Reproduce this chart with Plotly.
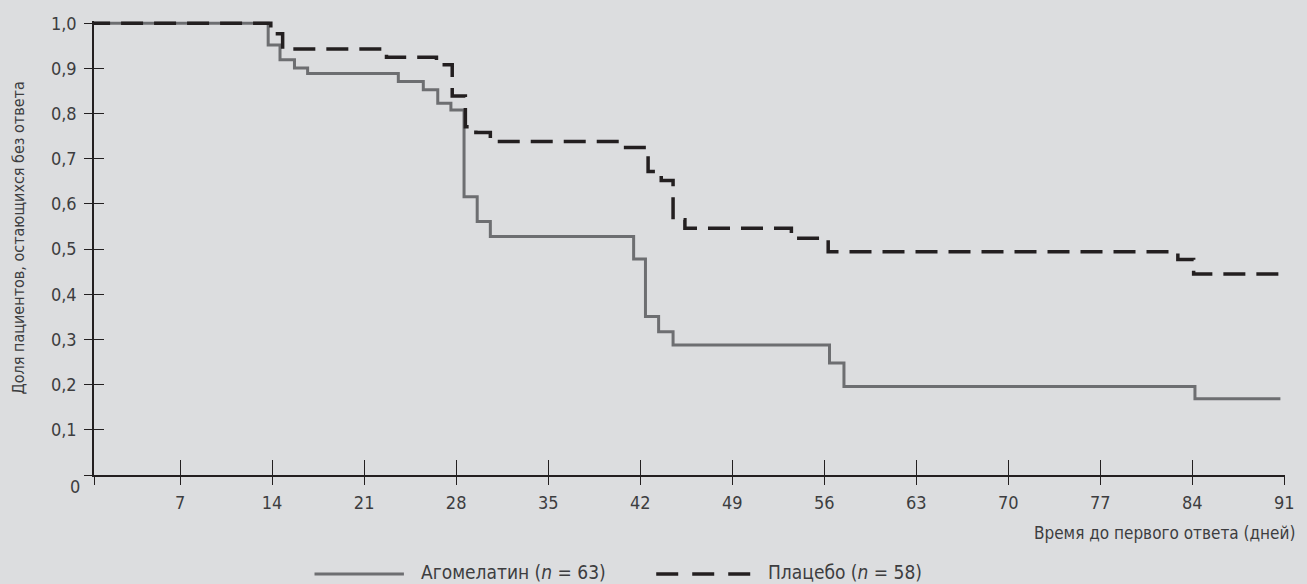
import plotly.graph_objects as go

# ---------------- data ----------------
days_agomelatine = [0, 13.7, 14.6, 15.7, 16.7, 23.6, 25.5, 26.6, 27.6, 28.6, 29.6, 30.6,
                    41.5, 42.4, 43.4, 44.5, 56.4, 57.5, 84.2, 90.7]
surv_agomelatine = [1.0, 0.952, 0.919, 0.901, 0.889, 0.871, 0.853, 0.823, 0.808, 0.616, 0.561, 0.528,
                    0.478, 0.351, 0.317, 0.288, 0.248, 0.196, 0.169, 0.169]

days_placebo = [0, 13.9, 14.8, 22.7, 26.5, 27.7, 28.7, 29.5, 30.6, 40.6, 42.6, 43.6,
                44.5, 45.4, 53.5, 56.3, 82.9, 84.1, 90.7]
surv_placebo = [1.0, 0.977, 0.943, 0.925, 0.908, 0.839, 0.771, 0.758, 0.738, 0.725, 0.672, 0.652,
                0.565, 0.546, 0.524, 0.494, 0.477, 0.445, 0.445]

x_tick_vals = [7, 14, 21, 28, 35, 42, 49, 56, 63, 70, 77, 84, 91]
y_tick_vals = [0, 0.1, 0.2, 0.3, 0.4, 0.5, 0.6, 0.7, 0.8, 0.9, 1.0]
y_tick_text = ["", "0,1", "0,2", "0,3", "0,4", "0,5", "0,6", "0,7", "0,8", "0,9", "1,0"]

name_agomelatine = "Агомелатин (<i>n</i> = 63)"
name_placebo = "Плацебо (<i>n</i> = 58)"
x_title = "Время до первого ответа (дней)"
y_title = "Доля пациентов, остающихся без ответа"

# ---------------- style ----------------
X_RANGE = [0.45, 91.05]
Y_RANGE = [0, 1.005]
BG = "#dcdddf"
AXIS = "#231f20"
TEXT = "#3d3d3f"
GREY = "#6d6e71"
BLACK = "#231f20"
DASH = "22px,11px"
FONT = "DejaVu Sans Condensed, Liberation Sans Narrow, sans-serif"

fig = go.Figure()
fig.add_trace(go.Scatter(x=days_agomelatine, y=surv_agomelatine, mode="lines",
                         line=dict(shape="hv", color=GREY, width=3),
                         name=name_agomelatine, showlegend=False, hoverinfo="skip"))
fig.add_trace(go.Scatter(x=days_placebo, y=surv_placebo, mode="lines",
                         line=dict(shape="hv", color=BLACK, width=3.5, dash=DASH),
                         name=name_placebo, showlegend=False, hoverinfo="skip"))
# empty trace so the overlay axes (crossing tick halves) are drawn
fig.add_trace(go.Scatter(x=[], y=[], xaxis="x2", yaxis="y2", showlegend=False, hoverinfo="skip"))

common = dict(showgrid=False, zeroline=False, tickcolor=AXIS, tickwidth=1.3, fixedrange=True)

fig.update_layout(
    width=1307, height=584,
    margin=dict(l=94, r=14, t=21, b=109),
    paper_bgcolor=BG, plot_bgcolor=BG,
    font=dict(family=FONT, color=TEXT, size=16),
    xaxis=dict(range=X_RANGE, tickmode="array",
               tickvals=[X_RANGE[0]] + x_tick_vals,
               ticktext=[""] + [str(v) for v in x_tick_vals],
               ticks="outside", ticklen=8, showline=True, linecolor=AXIS, linewidth=1.5,
               tickfont=dict(size=18, color=TEXT), ticklabelstandoff=3, **common),
    xaxis2=dict(range=X_RANGE, overlaying="x", anchor="y", side="bottom", tickmode="array",
                tickvals=x_tick_vals, ticks="inside", ticklen=15, showticklabels=False,
                showline=False, **common),
    yaxis=dict(range=Y_RANGE, tickmode="array", tickvals=y_tick_vals, ticktext=y_tick_text,
               ticks="outside", ticklen=8, showline=True, linecolor=AXIS, linewidth=1.5,
               tickfont=dict(size=18, color=TEXT), ticklabelstandoff=4, **common),
    yaxis2=dict(range=Y_RANGE, overlaying="y", anchor="x", side="left", tickmode="array",
                tickvals=y_tick_vals[1:], ticks="inside", ticklen=10, showticklabels=False,
                showline=False, **common),
)

plot_w = 1307 - 94 - 14
plot_h = 584 - 21 - 109


def px_x(px):
    return (px - 94) / plot_w


def px_y(py):
    return (584 - 109 - py) / plot_h


annotations = [
    dict(text="0", xref="paper", yref="y", x=0, y=0, xanchor="right", yanchor="middle",
         xshift=-12, yshift=-11, showarrow=False, font=dict(size=18, color=TEXT)),
    dict(text=x_title, xref="paper", yref="paper", x=1, y=px_y(533), xanchor="right",
         yanchor="middle", xshift=12, showarrow=False, font=dict(size=17, color=TEXT)),
    dict(text=y_title, xref="paper", yref="paper", x=px_x(17), y=px_y(238), xanchor="center",
         yanchor="middle", textangle=-90, showarrow=False, font=dict(size=16, color=TEXT)),
    dict(text=name_agomelatine, xref="paper", yref="paper", x=px_x(421), y=px_y(572),
         xanchor="left", yanchor="middle", showarrow=False, font=dict(size=19, color=TEXT)),
    dict(text=name_placebo, xref="paper", yref="paper", x=px_x(771), y=px_y(572),
         xanchor="left", yanchor="middle", showarrow=False, font=dict(size=19, color=TEXT)),
]
shapes = [
    dict(type="line", xref="paper", yref="paper", x0=px_x(316), x1=px_x(406),
         y0=px_y(574), y1=px_y(574), line=dict(color=GREY, width=3)),
    dict(type="line", xref="paper", yref="paper", x0=px_x(660), x1=px_x(760),
         y0=px_y(574), y1=px_y(574), line=dict(color=BLACK, width=3.5, dash="22px,14px")),
]
fig.update_layout(annotations=annotations, shapes=shapes)

fig.write_html("out.html", config={"displayModeBar": False},
               post_script="document.body.style.margin='0';"
               "document.body.style.overflow='hidden';")
